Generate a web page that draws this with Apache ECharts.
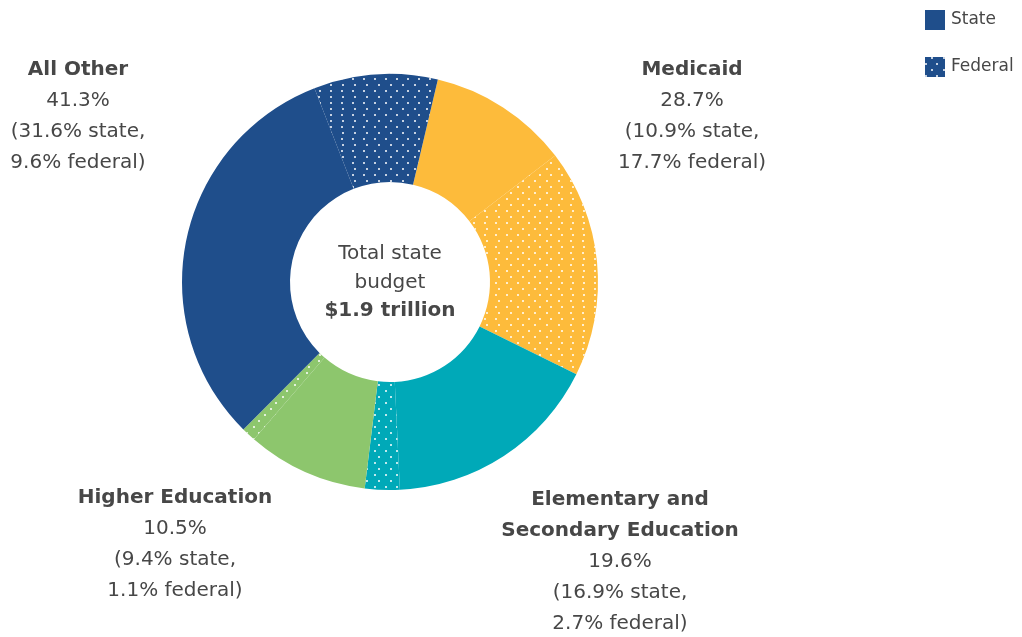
<!DOCTYPE html>
<html><head><meta charset="utf-8">
<script src="https://cdn.jsdelivr.net/npm/echarts@6/dist/echarts.min.js"></script>
<style>html,body{margin:0;padding:0;background:#fff}#c{width:1022px;height:637px}</style>
</head><body><div id="c"></div>
<script>
var categories = ['Medicaid', 'Elementary and\nSecondary Education', 'Higher Education', 'All Other'];
var totals = [28.7, 19.6, 10.5, 41.3];
var stateShares = [10.9, 16.9, 9.4, 31.6];
var federalShares = [17.7, 2.7, 1.1, 9.6];
var colors = ['#fdbb3b', '#00a9b8', '#8dc66d', '#1f4e8b'];
var fundTypes = ['State', 'Federal'];
var totalBudget = '$1.9 trillion';

var FONT = 'DejaVu Sans';
var TXT = '#474747';
var dotDecal = {
  symbol: 'circle', symbolSize: 1, color: '#ffffff',
  dashArrayX: [[2, 9], [0, 5.5, 2, 3.5]], dashArrayY: [2, 3.5], rotation: 0
};

var pieData = [];
categories.forEach(function (c, i) {
  pieData.push({ name: fundTypes[0], value: stateShares[i], itemStyle: { color: colors[i] } });
  pieData.push({ name: fundTypes[1], value: federalShares[i], itemStyle: { color: colors[i], decal: dotDecal } });
});

function labelText(i) {
  var lines = categories[i].split('\n').map(function (l) { return '{b|' + l + '}'; });
  lines.push('{n|' + totals[i].toFixed(1) + '%}');
  lines.push('{n|(' + stateShares[i].toFixed(1) + '% state,}');
  lines.push('{n|' + federalShares[i].toFixed(1) + '% federal)}');
  return lines.join('\n');
}
var labelPos = [[692, 54], [620, 484], [175, 482], [78, 54]];
var FS = 20;
var rich = {
  b: { fontFamily: FONT, fontWeight: 'bold', fontSize: FS, fill: TXT, color: TXT, lineHeight: 31 },
  n: { fontFamily: FONT, fontSize: FS, fill: TXT, color: TXT, lineHeight: 31 }
};
var graphics = categories.map(function (c, i) {
  return { type: 'text', x: labelPos[i][0], y: labelPos[i][1],
    style: { text: labelText(i), align: 'center', verticalAlign: 'top', rich: rich, fill: TXT, font: FS + 'px ' + FONT } };
});
graphics.push({ type: 'text', x: 390, y: 240,
  style: { text: '{n|Total state}\n{n|budget}\n{b|' + totalBudget + '}', align: 'center', verticalAlign: 'top',
    rich: { b: { fontFamily: FONT, fontWeight: 'bold', fontSize: FS, fill: TXT, color: TXT, lineHeight: 28.5 },
            n: { fontFamily: FONT, fontSize: FS, fill: TXT, color: TXT, lineHeight: 28.5 } } } });

var chart = echarts.init(document.getElementById('c'));
chart.setOption({
  animation: false,
  legend: {
    orient: 'vertical', left: 920, top: 5, itemWidth: 20, itemHeight: 20, itemGap: 27,
    icon: 'rect',
    textStyle: { fontFamily: FONT, fontSize: 17, color: TXT, padding: [0, 0, 0, 1] },
    data: [
      { name: fundTypes[0], itemStyle: { color: colors[3] } },
      { name: fundTypes[1], itemStyle: { color: colors[3], decal: dotDecal } }
    ],
    selectedMode: false
  },
  series: [{
    type: 'pie', center: [390, 282], radius: [100, 208], startAngle: 76.7, clockwise: true,
    label: { show: false }, labelLine: { show: false }, silent: true,
    itemStyle: { borderWidth: 0 },
    data: pieData
  }],
  graphic: graphics
});
</script></body></html>
